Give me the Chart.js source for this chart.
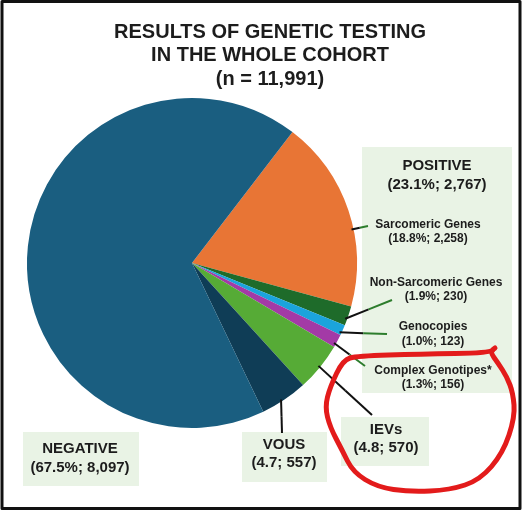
<!DOCTYPE html>
<html>
<head>
<meta charset="utf-8">
<script src="https://cdn.jsdelivr.net/npm/chart.js@4/dist/chart.umd.min.js"></script>
<style>
  html, body { margin: 0; padding: 0; background: #fff; }
  #wrap { width: 523px; height: 512px; }
</style>
</head>
<body>
<div id="wrap"><canvas id="chart" width="523" height="512"></canvas></div>
<script>
// slices, clockwise from the orange one
const CATEGORIES = ['Sarcomeric Genes', 'Non-Sarcomeric Genes', 'Genocopies', 'Complex Genotipes*', 'IEVs', 'VOUS', 'NEGATIVE'];
const COUNTS = [2258, 230, 123, 156, 570, 557, 8097];
const PERCENTS = ['18.8%', '1.9%', '1.0%', '1.3%', '4.8', '4.7', '67.5%'];
const COLORS = ['#e87535', '#1e6b2a', '#1ba4dc', '#a33aa6', '#56ab36', '#0f3d56', '#1a5e80'];

const TITLE = ['RESULTS OF GENETIC TESTING', 'IN THE WHOLE COHORT', '(n = 11,991)'];
const POSITIVE = ['POSITIVE', '(23.1%; 2,767)'];

const fmt = n => n.toLocaleString('en-US');

// where each slice label sits and where its leader line goes
const LABEL_POS = [
  { x: 428, y: 225, gap: 14, size: 12, t: 0.6, end: [368, 226], tip: '#2d7d2d' },
  { x: 436, y: 283, gap: 14, size: 12, t: 0.68, end: [392, 300], tip: '#2d7d2d' },
  { x: 433, y: 327, gap: 15, size: 12, t: 0.8, end: [387, 334], tip: '#2d7d2d' },
  { x: 433, y: 371, gap: 14, size: 12, t: 0.75, end: [365, 366], tip: '#2d7d2d' },
  { x: 386, y: 430, gap: 18, size: 15, t: 0.5, end: [372, 415], tip: '#111' },
  { x: 284, y: 445, gap: 18, size: 15, t: 0.55, end: [282, 433], tip: '#111' },
  { x: 80, y: 449, gap: 19, size: 15, t: null }
];
const BOXES = [
  [362, 147, 150, 246],
  [23, 432, 116, 54],
  [242, 432, 85, 50],
  [341, 417, 88, 49]
];
const RED_LOOP = [
  [493, 350], [490, 353], [420, 354], [357, 356], [343, 360], [330, 387], [325, 407],
  [330, 427], [342, 450], [353, 472], [377, 487], [410, 492], [450, 490], [480, 480],
  [503, 453], [515, 417], [513, 393], [507, 377], [498, 363], [490, 352], [495, 348]
];

const FONT = '"Liberation Sans", Arial, sans-serif';
const TEXT = '#1c1c1c';

const overlay = {
  id: 'overlay',
  afterDatasetsDraw(chart) {
    const ctx = chart.ctx;
    const arcs = chart.getDatasetMeta(0).data;
    ctx.save();
    ctx.textAlign = 'center';
    ctx.textBaseline = 'middle';
    ctx.fillStyle = TEXT;

    ctx.font = 'bold 20px ' + FONT;
    TITLE.forEach((s, i) => ctx.fillText(s, 270, 32 + i * 23.5));

    ctx.fillStyle = '#e9f3e5';
    BOXES.forEach(b => ctx.fillRect(b[0], b[1], b[2], b[3]));

    ctx.fillStyle = TEXT;
    ctx.font = 'bold 15px ' + FONT;
    ctx.fillText(POSITIVE[0], 437, 166);
    ctx.fillText(POSITIVE[1], 437, 185);

    // leader lines from the slice edge
    ctx.lineWidth = 2;
    LABEL_POS.forEach((p, i) => {
      if (p.t === null) return;
      const a = arcs[i];
      const ang = a.startAngle + p.t * (a.endAngle - a.startAngle);
      const sx = a.x + Math.cos(ang) * (a.outerRadius - 2);
      const sy = a.y + Math.sin(ang) * (a.outerRadius - 2);
      const mx = (sx + p.end[0]) / 2, my = (sy + p.end[1]) / 2;
      ctx.strokeStyle = '#111';
      ctx.beginPath(); ctx.moveTo(sx, sy); ctx.lineTo(mx, my); ctx.stroke();
      ctx.strokeStyle = p.tip;
      ctx.beginPath(); ctx.moveTo(mx, my); ctx.lineTo(p.end[0], p.end[1]); ctx.stroke();
    });

    LABEL_POS.forEach((p, i) => {
      ctx.font = 'bold ' + p.size + 'px ' + FONT;
      ctx.fillText(CATEGORIES[i], p.x, p.y);
      ctx.fillText('(' + PERCENTS[i] + '; ' + fmt(COUNTS[i]) + ')', p.x, p.y + p.gap);
    });

    // hand drawn red loop
    ctx.strokeStyle = '#e31b1b';
    ctx.lineWidth = 5;
    ctx.lineCap = 'round';
    ctx.lineJoin = 'round';
    ctx.beginPath();
    ctx.moveTo(RED_LOOP[0][0], RED_LOOP[0][1]);
    for (let i = 1; i < RED_LOOP.length - 1; i++) {
      const mx = (RED_LOOP[i][0] + RED_LOOP[i + 1][0]) / 2;
      const my = (RED_LOOP[i][1] + RED_LOOP[i + 1][1]) / 2;
      ctx.quadraticCurveTo(RED_LOOP[i][0], RED_LOOP[i][1], mx, my);
    }
    const last = RED_LOOP[RED_LOOP.length - 1];
    ctx.lineTo(last[0], last[1]);
    ctx.stroke();

    // frame
    ctx.strokeStyle = '#111';
    ctx.lineWidth = 3;
    ctx.strokeRect(2, 1.5, 518, 507);
    ctx.restore();
  }
};

new Chart(document.getElementById('chart'), {
  type: 'pie',
  data: {
    labels: CATEGORIES,
    datasets: [{
      data: COUNTS,
      backgroundColor: COLORS,
      borderWidth: 0
    }]
  },
  options: {
    responsive: false,
    animation: false,
    rotation: 37.5,
    layout: { padding: { left: 27, right: 166, top: 98, bottom: 84 } },
    plugins: {
      legend: { display: false },
      tooltip: { enabled: false }
    }
  },
  plugins: [overlay]
});
</script>
</body>
</html>
